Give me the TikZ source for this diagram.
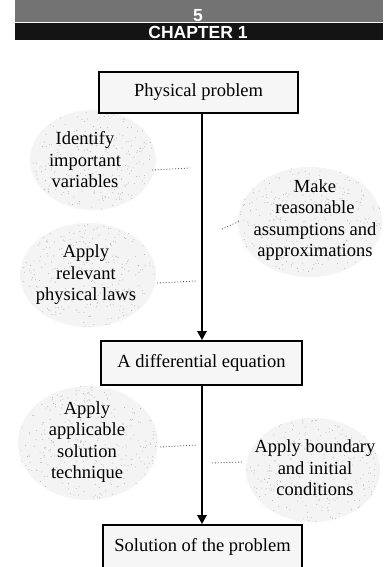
\documentclass[tikz,border=0pt]{standalone}
\usepackage{fontspec}
\setmainfont{Liberation Serif}
\newfontfamily\hdrfont{Liberation Sans}
\usetikzlibrary{arrows.meta}
\tikzset{
  procbox/.style={draw=black, line width=1.6pt, fill=gray!7, inner sep=0pt,
    font=\fontsize{18.5}{21}\selectfont},
  cloudtext/.style={align=center, inner sep=0pt, font=\fontsize{18.5}{21.5}\selectfont},
  flow/.style={line width=2.4pt, -{Triangle[length=9pt,width=9pt]}},
  hint/.style={dotted, line width=0.9pt, gray!70!black},
  hdrtext/.style={text=white, font=\hdrfont\bfseries\fontsize{17.5}{18}\selectfont, inner sep=0pt}
}
\newcommand{\stipple}[5]{% cx, cy, rx, ry, n
  \fill[gray!9] (#1,#2) ellipse [x radius=#3, y radius=#4];
  \foreach \k in {1,...,#5}{
    \pgfmathsetmacro{\rr}{sqrt(rnd)}
    \pgfmathsetmacro{\tt}{360*rnd}
    \fill[gray!60] ({#1+#3*\rr*cos(\tt)},{#2+#4*\rr*sin(\tt)}) circle (0.5pt);
  }
}
\begin{document}
\begin{tikzpicture}[x=1pt,y=-1pt]
\useasboundingbox (0,0) rectangle (383,567);
\fill[white] (0,0) rectangle (383,567);
\pgfmathsetseed{7}
% header
\fill[black!55] (15,0) rectangle (383,22);
\fill[black!92] (15,23) rectangle (383,40);
\node[hdrtext] (pg) at (198,15.5) {5};
\node[hdrtext] (ch) at (198,32) {CHAPTER 1};
% clouds
\stipple{93}{160}{63}{50}{260}
\stipple{310}{222}{72}{55}{300}
\stipple{88}{275}{68}{52}{270}
\stipple{88}{443}{70}{57}{300}
\stipple{313}{470}{67}{52}{270}
\node[cloudtext] (c1) at (85,160) {Identify\\important\\variables};
\node[cloudtext] (c2) at (315,220) {Make\\reasonable\\assumptions and\\approximations};
\node[cloudtext] (c3) at (86,275) {Apply\\relevant\\physical laws};
\node[cloudtext] (c4) at (87,442) {Apply\\applicable\\solution\\technique};
\node[cloudtext] (c5) at (315,468) {Apply boundary\\and initial\\conditions};
% boxes
\node[procbox, minimum width=199pt, minimum height=41pt] (p1) at (198.5,92.5) {Physical problem};
\node[procbox, minimum width=201pt, minimum height=44pt] (p2) at (201.5,363) {A differential equation};
\node[procbox, minimum width=199pt, minimum height=44pt] (p3) at (202.5,547) {Solution of the problem};
% spine
\coordinate (sp) at (202,0);
\draw[flow] (p1.south -| sp) -- (p2.north -| sp);
\draw[flow] (p2.south -| sp) -- (p3.north -| sp);
% dotted hints
\coordinate (h1a) at (152,170); \coordinate (h1b) at (190,168);
\coordinate (h2a) at (222,229); \coordinate (h2b) at (240,221);
\coordinate (h3a) at (157,283); \coordinate (h3b) at (196,281);
\coordinate (h4a) at (160,447); \coordinate (h4b) at (197,445);
\coordinate (h5a) at (212,463); \coordinate (h5b) at (242,462);
\draw[hint] (h1a) -- (h1b);
\draw[hint] (h2a) -- (h2b);
\draw[hint] (h3a) -- (h3b);
\draw[hint] (h4a) -- (h4b);
\draw[hint] (h5a) -- (h5b);
\end{tikzpicture}
\end{document}
